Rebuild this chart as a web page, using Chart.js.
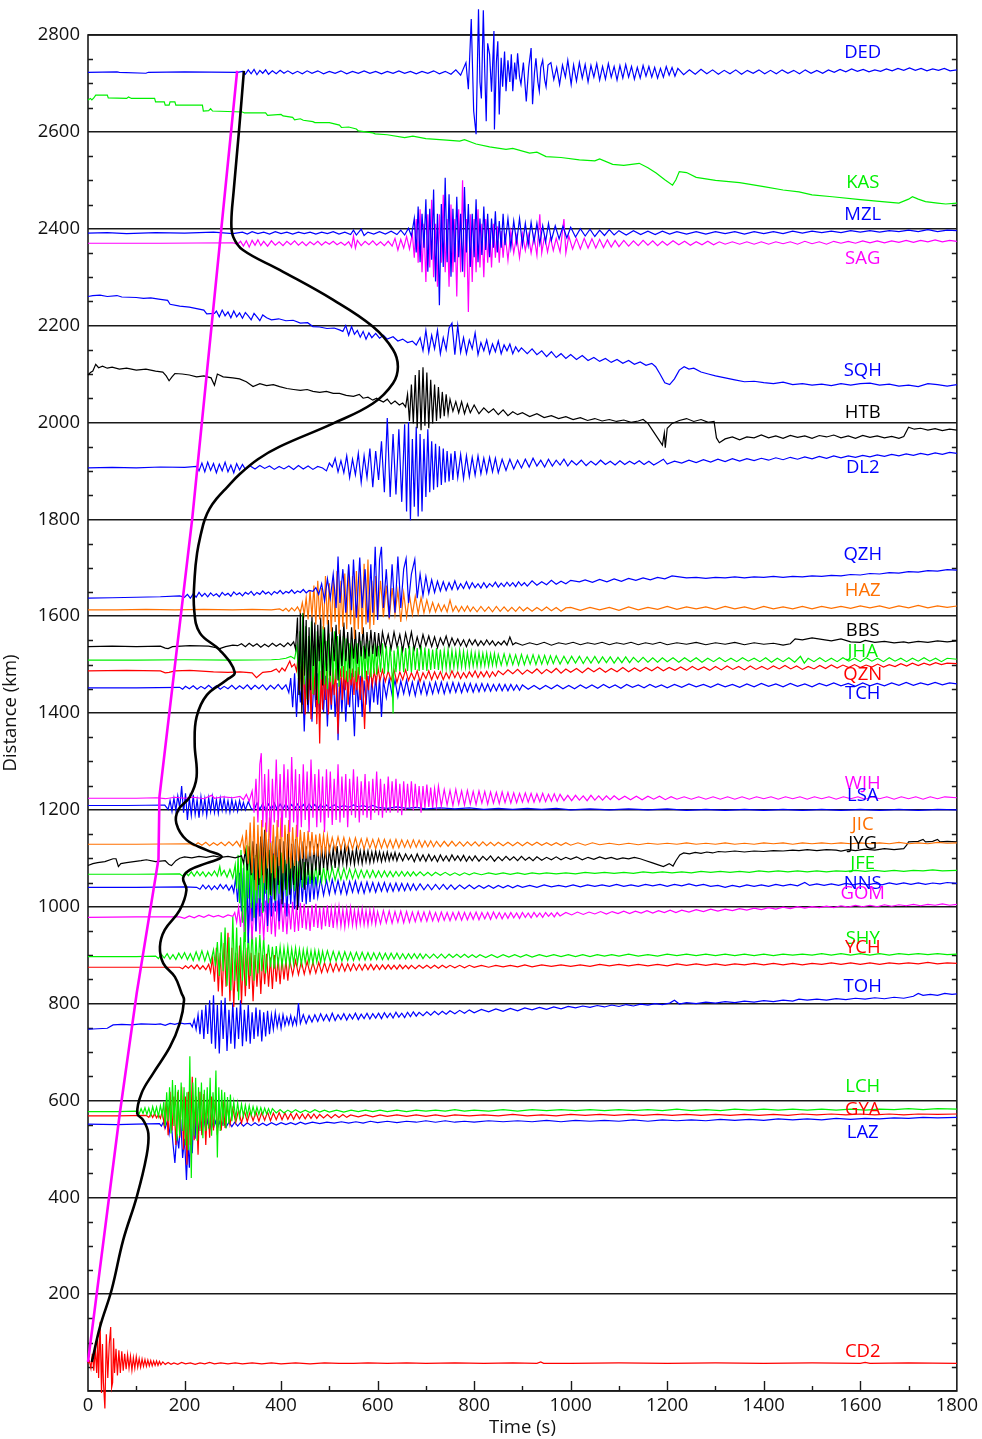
<!DOCTYPE html>
<html>
<head>
<meta charset="utf-8">
<title>Record section</title>
<script src="https://cdn.jsdelivr.net/npm/chart.js@4.4.1/dist/chart.umd.min.js"></script>
<style>
  html, body { margin: 0; padding: 0; background: #fff; }
  canvas { display: block; }
</style>
</head>
<body>
<canvas id="section" width="982" height="1439"></canvas>
<script>
// ============================================================
// DATA - traces as [time (s), deflection (km)]
// ============================================================

const NAMES = ['DED','KAS','MZL','SAG','SQH','HTB','DL2','QZH','HAZ','BBS','JHA','QZN','TCH','WJH','LSA','JIC','JYG','JFE','NNS','GOM','SHY','YCH','TOH','LCH','GYA','LAZ','CD2'];
const DIST = [2723,2666,2391,2370,2260,2098,1906,1637,1613,1537,1509,1487,1452,1224,1209,1129,1085,1067,1040,978,897,875,747,577,568,551,57];
const LABEL_D = [2763,2494,2428,2339,2106,2019,1906,1726,1652,1569,1526,1478,1439,1253,1229,1169,1130,1088,1047,1026,933,915,834,628,580,533,81];

const X_TICKS = [0,200,400,600,800,1000,1200,1400,1600,1800];
const Y_TICKS = [0,200,400,600,800,1000,1200,1400,1600,1800,2000,2200,2400,2600,2800];

// travel-time curves [time, distance]
const CURVE_BLACK = [[8,60],[25,133],[49,209],[73,312],[101,401],[121,484],[125,532],[114,560],[102,573],[111,615],[135,656],[170,711],[190,759],[199,807],[194,821],[180,855],[156,883],[149,917],[159,952],[190,993],[204,1035],[197,1059],[211,1076],[246,1090],[277,1103],[246,1117],[204,1138],[183,1172],[187,1200],[211,1227],[225,1268],[221,1337],[225,1392],[246,1437],[287,1468],[304,1484],[273,1530],[232,1565],[220,1613],[221,1681],[226,1730],[234,1770],[242,1800],[252,1822],[266,1842],[288,1866],[314,1893],[352,1924],[397,1950],[508,1998],[590,2039],[632,2081],[642,2115],[632,2150],[590,2198],[508,2253],[397,2315],[321,2356],[301,2383],[297,2414],[302,2480],[313,2604],[323,2726]];
const CURVE_MAGENTA = [[0,60],[66,574],[101,822],[146,1098],[148,1227],[216,1802],[309,2726]];

const DED = [[0,0],[60,1],[65,0],[120,-2],[125,0],[200,1],[310,0],[320,2],[326,-4],[332,5],[338,-3],[344,6],[350,-5],[356,4],[362,-2],[368,5],[374,-4],[382,3],[390,-3],[398,4],[406,-2],[414,3],[424,-3],[434,2],[444,-3],[454,3],[464,-2],[476,3],[488,-3],[500,2],[512,-2],[524,3],[536,-3],[548,2],[560,-2],[572,3],[584,-2],[596,2],[608,-3],[620,2],[632,-2],[644,3],[656,-2],[668,2],[680,-3],[692,2],[704,-2],[716,3],[728,-3],[740,2],[752,-4],[762,5],[772,-6],
  [783,20],[788,-35],[794,110],[799,-80],[804,-128],[809,130],[812,-20],[815,-54],[819,128],[822,0],[825,-101],[828,60],[832,37],[836,-40],[841,85],[842,-118],[846,20],[849,64],[852,-87],[856,30],[859,-30],[863,43],[866,-39],[870,25],[874,-20],[877,37],[880,-39],[884,20],[887,-15],[890,39],[894,-10],[897,-25],[902,20],[908,-60],[913,10],[918,50],[921,-66],[925,0],[928,29],[932,-20],[935,-39],[938,10],[942,25],[946,-15],[949,-30],[953,15],[959,20],[965,-15],[971,10],[977,-25],[983,15],[989,-10],[994,25],[1001,-25],
  [1006,15],[1012,-18],[1018,20],[1024,-12],[1030,16],[1036,-20],[1042,14],[1048,-10],[1054,18],[1060,-16],[1066,12],[1072,-14],[1078,18],[1084,-10],[1090,12],[1096,-16],[1102,14],[1108,-12],[1114,16],[1120,-10],[1126,12],[1132,-14],[1138,10],[1144,-12],[1150,14],[1156,-8],[1162,12],[1168,-10],[1174,10],[1180,-12],[1186,8],[1192,-10],[1198,12],[1204,-6],[1210,10],[1216,-8],[1222,8],
  [1234,-5],[1246,5],[1258,-4],[1270,6],[1282,-3],[1294,5],[1306,-4],[1318,4],[1330,-3],[1342,5],[1354,-4],[1366,4],[1378,-2],[1390,5],[1402,-3],[1414,4],[1426,-3],[1438,5],[1450,-2],[1462,4],[1474,-3],[1486,5],[1498,-2],[1510,4],[1522,-2],[1534,5],[1546,0],[1558,6],[1570,1],[1582,7],[1594,2],[1606,6],[1618,1],[1630,5],[1642,2],[1654,7],[1666,3],[1678,8],[1690,4],[1702,9],[1714,4],[1726,8],[1738,3],[1750,7],[1762,4],[1774,8],[1786,3],[1800,5]];

const KAS = [[0,0],[5,3],[8,0],[12,4],[16,10],[40,10],[42,4],[80,3],[84,6],[90,3],[138,3],[140,-4],[158,-4],[160,-11],[168,-11],[170,-4],[180,-4],[182,-11],[237,-11],[239,-23],[250,-22],[254,-18],[258,-23],[320,-25],[324,-27],[368,-27],[372,-32],[400,-30],[404,-33],[424,-36],[428,-41],[440,-39],[446,-42],[466,-45],[470,-47],[500,-47],[521,-52],[525,-57],[540,-56],[556,-60],[560,-64],[590,-68],[595,-70],[620,-72],[656,-78],[673,-75],[700,-80],[743,-83],[770,-85],[780,-82],[804,-91],[832,-97],[866,-102],[880,-100],[915,-110],[930,-108],[949,-117],[980,-119],[1018,-124],[1050,-126],[1060,-122],[1087,-133],[1110,-135],[1142,-131],[1160,-140],[1177,-151],[1195,-165],[1211,-176],[1218,-165],[1225,-148],[1240,-150],[1260,-160],[1300,-166],[1350,-171],[1400,-179],[1440,-186],[1473,-190],[1500,-196],[1542,-200],[1600,-206],[1645,-210],[1680,-213],[1700,-205],[1708,-200],[1720,-205],[1735,-210],[1760,-213],[1777,-215],[1800,-213]];

const MZL = [[0,0],[40,1],[80,-1],[140,1],[200,0],[260,2],[300,-1],[320,2],[330,-2],[340,3],[352,-1],[364,2],[376,-2],[388,3],[400,-1],[412,2],[424,-2],[436,2],[448,-1],[460,2],[472,-2],[484,2],[496,-1],[508,3],[520,-2],[532,2],[544,-3],[550,6],[556,-4],[566,8],[572,-5],[580,2],[592,-2],[604,3],[616,-2],[628,4],[640,-3],[648,6],[656,-4],[664,10],[670,-6],
  [676,30],[680,-40],[684,55],[688,-60],[692,40],[696,-30],[700,70],[704,-80],[708,50],[712,-55],[716,90],[720,-100],[724,40],[728,-149],[732,60],[736,-70],[740,114],[744,-60],[748,80],[752,-90],[756,50],[760,-60],[764,75],[768,-50],[772,40],[776,-80],[780,95],[784,-40],[788,60],[792,-70],[796,40],[800,-50],[804,70],[808,-60],[812,30],[816,-45],[820,55],[824,-35],[828,40],[832,-50],[836,30],[840,-30],[844,45],[848,-40],[852,25],[856,-30],[860,40],[864,-25],[870,30],[876,-30],[882,25],[888,-20],[894,30],[900,-25],[906,20],[912,-25],[918,22],[924,-18],[930,20],[936,-22],[942,15],[948,-18],[954,20],[960,-15],[968,15],[976,-12],[984,14],[992,-10],[1000,12],
  [1010,-8],[1020,9],[1030,-6],[1040,8],[1050,-7],[1060,6],[1070,-5],[1080,7],[1090,-4],[1100,5],[1115,-4],[1130,5],[1145,-3],[1160,4],[1175,-3],[1190,4],[1205,-2],[1220,3],[1240,-2],[1260,3],[1280,-2],[1300,3],[1320,-1],[1340,3],[1360,-2],[1380,3],[1400,-1],[1420,3],[1440,-1],[1460,4],[1480,0],[1500,4],[1520,1],[1540,4],[1560,1],[1580,5],[1600,2],[1620,5],[1640,2],[1660,5],[1680,3],[1700,6],[1720,3],[1740,7],[1760,3],[1780,6],[1800,5]];

const SAG = [[0,0],[150,0],[300,1],[310,-2],[316,4],[322,-6],[328,5],[334,-8],[340,6],[346,-4],[352,7],[358,-5],[364,4],[372,-6],[380,5],[388,-4],[396,3],[404,-5],[412,4],[420,-3],[428,5],[436,-4],[444,3],[452,-5],[460,3],[468,-3],[476,4],[484,-4],[492,3],[500,-2],[508,4],[516,-3],[524,2],[532,-4],[540,3],[546,-8],[550,15],[554,-10],[558,6],[566,-5],[574,4],[582,-3],[590,5],[598,-4],[606,3],[614,-5],[622,4],[630,-6],[636,10],[642,-14],[648,8],[654,-10],[660,14],[666,-12],
  [672,20],[676,-30],[680,50],[684,-40],[688,70],[692,-60],[696,40],[700,-80],[704,60],[708,-50],[712,90],[716,-70],[720,40],[724,-90],[728,60],[732,-40],[736,100],[740,-60],[744,50],[748,-90],[752,80],[756,-60],[760,50],[764,-110],[768,70],[772,-60],[776,130],[780,-70],[784,50],[788,-142],[792,60],[796,-80],[800,50],[804,-60],[808,70],[812,-50],[816,40],[820,-70],[824,50],[828,-40],[832,30],[836,-50],[840,40],[844,-30],[848,35],[852,-40],[856,25],[860,-30],[864,20],[870,-35],[876,25],[882,-20],[888,15],[894,-30],[900,20],[906,-15],[912,18],[918,-20],[924,15],[930,-25],[936,60],[940,-20],[946,15],[952,-18],[958,12],[964,-15],[970,10],[978,-18],[986,50],[990,-20],[996,15],[1004,-12],[1012,10],[1020,-12],[1028,10],[1036,-10],[1044,9],[1052,-10],[1060,8],[1068,-9],[1076,7],[1084,-8],[1092,6],[1100,-7],
  [1110,6],[1120,-6],[1130,5],[1140,-5],[1150,6],[1160,-4],[1170,5],[1180,-5],[1190,4],[1200,-4],[1212,5],[1224,-3],[1236,4],[1248,-4],[1260,3],[1272,-3],[1284,4],[1296,-3],[1308,3],[1320,-2],[1335,3],[1350,-2],[1365,3],[1380,-2],[1395,3],[1410,-2],[1425,3],[1440,-1],[1455,3],[1470,-2],[1485,4],[1500,-1],[1515,3],[1530,-2],[1545,4],[1560,0],[1575,4],[1590,0],[1605,5],[1620,1],[1635,5],[1650,1],[1665,5],[1680,2],[1695,6],[1710,2],[1725,6],[1740,3],[1755,7],[1770,3],[1785,6],[1800,4]];

const SQH = [[0,0],[10,2],[25,3],[40,0],[60,2],[70,-1],[100,-2],[115,-4],[130,-3],[150,-6],[165,-8],[170,-16],[190,-20],[210,-22],[240,-28],[246,-36],[262,-35],[266,-30],[272,-42],[278,-28],[284,-40],[290,-32],[296,-44],[302,-30],[308,-42],[314,-34],[320,-45],[326,-33],[332,-40],[338,-48],[344,-35],[350,-42],[356,-50],[362,-38],[370,-44],[380,-48],[395,-46],[410,-50],[425,-49],[440,-55],[455,-54],[466,-62],[480,-63],[495,-66],[510,-65],[521,-69],[528,-72],[534,-60],[540,-80],[546,-62],[552,-78],[558,-70],[564,-84],[570,-72],[576,-88],[582,-75],[588,-85],[596,-76],[604,-86],[612,-80],[620,-88],[632,-83],[642,-92],[652,-88],[662,-95],[672,-92],[680,-100],
  [688,-85],[694,-112],[700,-70],[706,-115],[712,-80],[718,-108],[724,-70],[730,-118],[736,-85],[742,-110],[748,-65],[754,-55],[760,-120],[766,-60],[772,-115],[778,-85],[784,-118],[790,-90],[796,-108],[802,-75],[808,-120],[814,-95],[820,-112],[826,-90],[832,-118],[838,-98],[844,-114],[850,-92],[856,-118],[862,-100],[868,-112],[874,-98],[880,-118],[886,-104],[892,-114],[898,-106],
  [910,-118],[920,-108],[930,-120],[940,-112],[950,-124],[960,-114],[970,-126],[980,-118],[990,-128],[1000,-120],[1012,-130],[1024,-122],[1036,-132],[1048,-126],[1060,-134],[1072,-128],[1084,-136],[1096,-130],[1108,-138],[1120,-132],[1132,-140],[1144,-135],[1156,-142],[1168,-138],[1176,-145],
  [1185,-160],[1195,-178],[1205,-182],[1215,-170],[1225,-152],[1235,-145],[1245,-150],[1255,-148],[1270,-156],[1285,-160],[1300,-164],[1320,-168],[1340,-172],[1360,-176],[1380,-175],[1400,-178],[1420,-180],[1440,-177],[1460,-182],[1480,-180],[1500,-183],[1520,-181],[1540,-184],[1560,-180],[1580,-183],[1600,-180],[1620,-179],[1640,-183],[1660,-181],[1680,-185],[1700,-183],[1720,-186],[1740,-180],[1760,-182],[1780,-185],[1800,-182]];

const HTB = [[0,0],[5,5],[10,8],[16,22],[22,15],[30,18],[40,14],[50,16],[65,12],[80,14],[100,10],[120,12],[140,8],[155,6],[162,-2],[168,-12],[174,-4],[180,3],[195,2],[210,0],[225,-4],[240,-2],[255,-6],[262,-21],[268,2],[280,-4],[300,-6],[314,-8],[328,-14],[342,-24],[356,-18],[370,-22],[384,-20],[397,-24],[412,-28],[426,-30],[440,-32],[454,-30],[466,-34],[480,-36],[494,-34],[508,-38],[521,-38],[535,-42],[550,-44],[562,-40],[570,-48],[580,-46],[590,-52],[598,-48],[604,-52],[612,-56],[620,-50],[628,-60],[636,-54],[645,-62],[652,-58],[658,-66],
  [662,-40],[666,-95],[670,-20],[674,-100],[678,0],[682,-110],[686,10],[690,-114],[694,16],[698,-105],[702,5],[706,-110],[710,-10],[714,-100],[718,-20],[722,-95],[726,-25],[730,-90],[734,-35],[738,-85],[742,-40],[746,-80],[750,-50],[756,-75],[762,-55],[768,-78],[774,-55],[780,-80],[786,-60],[792,-78],
  [800,-62],[810,-80],[820,-68],[830,-78],[840,-70],[850,-82],[860,-72],[870,-84],[880,-76],[890,-82],[900,-78],[915,-86],[930,-80],[945,-88],[960,-84],[975,-90],[990,-86],[1005,-92],[1020,-88],[1035,-94],[1050,-90],[1065,-95],[1080,-92],[1095,-96],[1110,-93],[1125,-98],[1140,-95],
  [1150,-92],[1160,-100],[1170,-115],[1180,-130],[1190,-145],[1194,-120],[1196,-150],[1200,-110],[1210,-100],[1225,-94],[1240,-90],[1255,-96],[1270,-92],[1285,-98],[1297,-96],[1302,-130],[1308,-140],[1320,-132],[1335,-128],[1350,-134],[1365,-128],[1380,-130],[1395,-124],[1410,-130],[1425,-126],[1440,-131],[1455,-125],[1470,-129],[1485,-126],[1500,-131],[1515,-125],[1530,-128],[1545,-124],[1560,-130],[1575,-126],[1590,-131],[1605,-125],[1620,-129],[1635,-126],[1650,-130],[1665,-127],[1680,-131],[1690,-127],[1700,-108],[1712,-112],[1725,-110],[1740,-114],[1755,-111],[1770,-115],[1785,-112],[1800,-114]];

const DL2 = [[0,0],[50,1],[100,0],[150,2],[200,1],[225,3],[230,-6],[236,10],[242,-8],[248,12],[254,-5],[260,9],[266,-10],[272,8],[278,-6],[284,12],[290,-8],[296,6],[302,-10],[308,9],[314,-4],[320,7],[326,-3],[336,4],[346,-2],[356,5],[366,-1],[376,4],[386,-3],[396,3],[406,-2],[416,4],[426,-3],[436,5],[446,-2],[456,4],[466,-3],[476,3],[486,0],[494,-6],[500,10],[506,2],[512,20],[518,-8],[524,15],[530,-10],[536,25],[542,-20],[548,18],[554,-14],[560,30],[566,-30],[572,25],[578,-20],[584,40],[590,-40],[596,35],[602,-25],[608,55],[614,-50],[620,103],[626,-60],[632,70],[638,-55],[644,80],[650,-70],[656,90],[660,-90],[664,95],[668,-108],[672,60],[676,-80],[680,85],[684,-100],[688,70],[692,-90],[696,60],[700,-60],[704,80],[708,-50],[712,55],[716,-45],[720,50],[724,-40],[728,45],[732,-35],[736,40],[740,-30],[744,35],[748,-28],[752,30],[756,-25],[760,35],[766,-20],[772,28],[778,-22],[784,25],[790,-18],[796,22],[802,-15],[808,25],[814,-12],[820,20],[826,-10],[832,22],[838,-8],[844,20],[850,-10],[858,18],[866,-5],[874,18],[882,-2],[890,16],[898,0],[906,18],[914,2],[922,20],[930,4],[938,16],[946,2],[954,18],[962,4],[970,16],[978,6],[986,18],[994,4],[1002,15],[1012,6],[1022,16],[1032,5],[1042,14],[1052,6],[1062,16],[1072,7],[1082,14],[1092,6],[1102,15],[1112,7],[1122,14],[1132,8],[1142,15],[1152,7],[1162,14],[1172,6],[1182,12],[1192,18],[1200,8],[1215,14],[1230,10],[1245,16],[1260,11],[1275,17],[1290,12],[1305,18],[1320,13],[1335,19],[1350,14],[1365,19],[1380,15],[1395,20],[1410,16],[1425,21],[1440,17],[1455,22],[1470,18],[1485,23],[1500,19],[1515,24],[1530,20],[1545,25],[1560,21],[1575,25],[1590,22],[1605,26],[1620,23],[1635,27],[1650,24],[1665,28],[1680,25],[1695,29],[1710,26],[1725,30],[1740,27],[1755,31],[1770,28],[1785,32],[1800,30]];

const QZH = [[0,0],[50,1],[100,2],[150,3],[190,5],[200,2],[206,8],[212,0],[218,9],[224,2],[230,12],[236,4],[242,10],[248,3],[254,11],[260,5],[266,9],[272,3],[278,12],[284,6],[290,10],[296,4],[302,13],[308,7],[314,11],[320,5],[326,12],[332,8],[338,14],[344,6],[350,12],[356,8],[362,15],[368,9],[374,13],[380,7],[386,14],[392,10],[398,16],[404,9],[410,14],[416,11],[422,17],[428,10],[434,15],[440,12],[446,18],[452,11],[458,16],[466,14],[472,22],[478,8],[484,30],[490,-5],[496,40],[502,0],[508,50],[514,-20],[518,86],[522,-10],[528,60],[534,-30],[540,70],[546,-25],[550,80],[556,-40],[563,84],[568,-20],[574,60],[580,-50],[586,70],[590,-30],[595,106],[600,-45],[604,80],[608,106],[612,-20],[618,60],[624,-40],[630,70],[636,-30],[642,86],[648,-20],[654,60],[659,82],[664,-10],[670,50],[677,80],[682,0],[688,50],[694,5],[700,45],[706,10],[712,38],[718,12],[724,35],[730,15],[736,34],[742,16],[748,32],[754,18],[760,36],[766,18],[772,30],[778,20],[784,34],[790,20],[796,32],[802,22],[808,30],[814,21],[820,32],[826,22],[832,30],[838,24],[844,33],[850,23],[856,31],[862,24],[868,33],[874,25],[880,32],[886,24],[892,34],[898,26],[904,32],[910,25],[920,36],[930,27],[940,34],[950,28],[960,37],[970,29],[980,35],[990,30],[1000,37],[1018,34],[1030,38],[1045,33],[1060,39],[1075,34],[1090,40],[1105,35],[1120,41],[1135,37],[1150,42],[1165,38],[1180,43],[1195,40],[1210,46],[1225,44],[1240,42],[1260,43],[1280,41],[1300,43],[1320,42],[1340,44],[1360,42],[1380,44],[1400,43],[1420,45],[1440,43],[1460,45],[1480,44],[1500,46],[1520,45],[1540,47],[1560,46],[1580,49],[1600,48],[1620,51],[1640,50],[1660,53],[1680,52],[1700,55],[1720,54],[1740,57],[1760,56],[1780,59],[1800,58]];

const HAZ = [[0,0],[60,0],[120,1],[180,0],[240,1],[300,0],[340,1],[380,0],[397,2],[404,-2],[410,3],[416,-3],[422,4],[428,-2],[434,6],[440,-5],[444,15],[448,-10],[452,25],[456,-20],[460,40],[464,-15],[468,50],[472,-30],[476,60],[480,-20],[484,45],[488,-40],[492,70],[496,-30],[500,55],[504,-45],[508,65],[512,-25],[516,80],[520,-50],[524,60],[528,-35],[532,75],[536,-40],[540,90],[544,-30],[548,70],[552,-60],[556,80],[560,-40],[564,85],[568,-50],[572,95],[576,-30],[580,104],[584,-40],[588,60],[592,-31],[596,70],[600,-20],[606,60],[612,-15],[618,50],[624,-20],[630,45],[636,-10],[642,40],[648,-25],[654,35],[660,-15],[666,30],[672,-10],[678,28],[684,-8],[690,25],[696,-6],[702,20],[708,-5],[714,15],[720,-4],[726,12],[732,-3],[738,10],[744,-4],[750,20],[756,-3],[762,8],[768,-4],[774,7],[780,-3],[786,8],[792,-3],[798,6],[806,-4],[814,7],[822,-3],[830,6],[838,-4],[846,7],[854,-3],[862,6],[870,-3],[878,5],[886,-3],[894,6],[902,-2],[910,5],[920,-3],[930,5],[940,-2],[950,6],[960,-2],[970,5],[980,-3],[990,4],[1000,5],[1020,-1],[1040,5],[1060,0],[1080,5],[1100,-1],[1120,6],[1140,0],[1160,5],[1180,1],[1200,7],[1220,1],[1240,6],[1260,2],[1280,6],[1300,1],[1320,7],[1340,2],[1360,6],[1380,1],[1400,7],[1420,2],[1440,6],[1460,2],[1480,7],[1500,2],[1520,7],[1540,3],[1560,7],[1580,3],[1600,8],[1620,4],[1640,8],[1660,3],[1680,8],[1700,4],[1720,9],[1740,4],[1760,8],[1780,5],[1800,8]];

const BBS = [[0,0],[50,1],[100,0],[150,1],[160,-3],[166,-4],[175,0],[211,2],[250,1],[265,-2],[273,-4],[285,0],[300,3],[310,2],[318,6],[326,0],[334,7],[342,1],[350,6],[358,-1],[366,5],[374,0],[382,7],[390,1],[398,6],[406,0],[414,8],[420,2],[426,10],[430,-5],
  [434,60],[437,-100],[440,76],[443,-137],[446,70],[449,-60],[452,55],[455,-120],[458,40],[461,-90],[464,65],[467,-40],[470,50],[473,-110],[476,45],[479,-30],[482,60],[486,-80],[490,40],[494,-50],[498,55],[502,-60],[506,40],[510,-30],[514,45],[518,-70],[522,35],[526,-40],[530,50],[534,-30],[538,30],[542,-45],[546,40],[550,-25],[554,35],[558,-35],[562,30],[566,-20],[570,40],[574,-25],[578,30],[582,-20],[586,35],[590,-15],[594,30],[598,-20],[602,28],[606,-10],[610,30],
  [616,0],[622,25],[628,-5],[634,30],[640,0],[646,25],[652,-8],[658,28],[664,0],[670,30],[676,-5],[682,20],[688,-3],[694,25],[700,2],[706,22],[712,0],[718,20],[724,-2],[730,18],[736,4],[742,22],[748,0],[754,18],[760,3],[766,16],[772,2],[778,14],[784,0],[790,15],[796,4],[802,14],[808,2],[814,12],[820,3],[826,14],[832,4],[838,12],[844,2],[850,10],[856,4],[862,12],[868,3],[874,20],[880,4],[886,8],
  [900,3],[915,8],[930,4],[945,9],[960,3],[975,8],[990,5],[1005,9],[1020,4],[1035,8],[1050,5],[1065,9],[1080,4],[1095,8],[1110,5],[1125,9],[1140,4],[1155,8],[1170,5],[1185,9],[1200,4],[1220,8],[1240,5],[1260,9],[1280,4],[1300,8],[1320,5],[1340,9],[1360,4],[1380,8],[1400,5],[1420,7],[1440,3],[1455,6],[1465,16],[1480,14],[1500,18],[1520,15],[1540,12],[1560,16],[1580,10],[1600,9],[1610,13],[1630,9],[1650,11],[1670,8],[1690,10],[1700,8],[1720,11],[1740,9],[1760,12],[1780,10],[1800,12]];

const JHA = [[0,0],[100,0],[200,1],[300,0],[380,1],[397,2],[410,4],[420,8],[428,3],
  [433,30],[436,-40],[439,60],[442,-60],[445,97],[448,-50],[451,70],[454,-80],[457,50],[460,-40],[463,80],[466,-70],[469,40],[472,-60],[475,60],[478,-90],[481,50],[484,-40],[487,70],[490,-50],[493,40],[496,-60],[499,55],[502,-45],[505,45],[508,-50],[511,60],[514,-40],[517,50],[520,-55],[523,40],[526,-35],[529,50],[532,-40],[535,45],[538,-45],[541,35],[544,-40],[547,45],[550,-35],[553,40],[556,-45],[559,35],[562,-30],[565,40],[568,-35],[571,30],[574,-40],[577,35],[580,-30],[583,40],[586,-35],[589,30],[592,-28],[595,35],[598,-30],[602,30],[606,-25],[610,35],[614,-28],[618,30],[622,-25],[626,28],[630,-30],[632,-110],[634,20],[638,-25],[642,30],[646,-22],[650,28],[654,-25],[658,25],[662,-22],[666,30],[670,-25],[674,28],[678,-20],[682,25],[686,-22],[690,30],[694,-20],[698,26],[702,-22],[706,24],[710,-20],[714,22],[718,-18],[722,25],[726,-20],[730,22],[734,-18],[738,20],[742,-16],[746,22],[750,-18],[754,20],[758,-15],[762,18],[766,-16],[770,20],[774,-14],[778,18],[782,-15],[786,16],[790,-14],[794,17],[798,-12],[802,15],[806,-13],[810,16],[814,-12],[818,14],[822,-11],[826,15],[830,-12],[834,13],[838,-10],[842,14],[846,-11],[850,12],[856,-10],[862,13],[868,-10],[874,12],[880,-9],[886,11],[892,-10],[898,12],[904,-9],[910,10],[916,-8],[922,11],[928,-9],[934,10],[940,-8],[946,10],[952,-8],[958,9],[964,-7],[970,9],[978,-8],[986,8],[994,-7],[1002,8],[1010,-6],[1018,8],[1026,-7],[1034,7],[1042,-6],[1050,8],[1058,-6],[1066,7],[1074,-5],[1082,7],[1090,-6],[1098,6],[1106,-5],[1114,7],[1122,-5],[1130,6],[1140,-4],[1150,6],[1160,-4],[1170,5],[1180,-4],[1190,5],[1200,-3],[1212,5],[1224,-4],[1236,5],[1248,-3],[1260,5],[1272,-4],[1284,4],[1296,-3],[1308,5],[1320,-3],[1332,4],[1344,-3],[1356,5],[1368,-2],[1380,4],[1392,-3],[1404,5],[1416,-4],[1428,4],[1440,-3],[1452,5],[1464,-4],[1476,8],[1484,-6],[1492,4],[1504,-3],[1516,5],[1528,-3],[1540,4],[1552,-3],[1564,5],[1576,-2],[1588,4],[1600,-3],[1612,5],[1624,-2],[1636,4],[1648,-3],[1660,5],[1672,-2],[1684,4],[1696,-3],[1708,4],[1720,-2],[1732,5],[1744,-2],[1756,4],[1768,-3],[1780,4],[1800,2]];

const QZN = [[0,0],[80,1],[150,0],[160,-4],[168,-3],[180,0],[211,1],[260,-2],[290,-3],[315,-2],[340,-4],[349,-14],[356,-8],[362,-3],[380,-1],[390,4],[396,-3],[402,6],[408,0],[414,12],[418,20],[422,8],[428,14],
  [432,0],[435,25],[438,-40],[441,10],[444,-70],[447,20],[450,-90],[453,0],[456,-60],[459,15],[462,-100],[465,5],[468,-50],[471,20],[474,-110],[477,-10],[480,-150],[483,0],[486,-80],[489,10],[492,-60],[495,15],[498,-90],[501,0],[504,-70],[507,10],[510,-50],[513,5],[516,-80],[518,-130],[521,-20],[524,5],[527,-60],[530,10],[533,-40],[536,0],[539,-70],[542,10],[545,-30],[548,5],[551,-50],[554,0],[557,-40],[560,8],[564,-60],[568,5],[573,-120],[577,0],[581,-40],[585,5],[589,-30],[593,0],[597,-25],[601,5],[605,-20],
  [610,2],[616,-22],[622,0],[628,-20],[634,2],[640,-24],[646,-2],[652,-18],[658,2],[664,-20],[670,-4],[676,-18],[682,0],[688,-22],[694,-4],[700,-16],[706,0],[712,-18],[718,-2],[724,-16],[730,-2],[736,-18],[742,-4],[748,-16],[754,0],[760,-14],[766,-2],[772,-16],[778,-4],[784,-14],[790,-2],[796,-12],[802,0],[808,-14],[814,-2],[820,-12],[826,-1],[832,-13],[838,-2],[844,-11],[850,0],
  [860,-8],[870,2],[880,-6],[890,3],[900,-7],[910,2],[920,-5],[930,4],[940,-6],[950,3],[960,-4],[970,5],[980,-5],[990,4],[1000,-3],[1012,5],[1024,-4],[1036,6],[1048,-2],[1060,6],[1072,-3],[1084,5],[1096,-2],[1108,7],[1120,-2],[1132,6],[1144,-1],[1156,7],[1168,0],[1180,8],[1192,0],[1204,7],[1216,1],[1228,8],[1240,1],[1252,9],[1264,2],[1276,8],[1288,1],[1300,9],[1312,2],[1324,10],[1336,3],[1348,9],[1360,2],[1372,10],[1384,3],[1396,9],[1408,3],[1420,10],[1432,4],[1444,11],[1456,4],[1468,10],[1480,3],[1492,9],[1504,4],[1516,11],[1528,5],[1540,12],[1552,6],[1564,12],[1576,7],[1588,13],[1600,7],[1612,12],[1624,8],[1636,14],[1648,8],[1660,13],[1672,9],[1684,15],[1696,10],[1708,16],[1720,11],[1732,16],[1744,12],[1756,17],[1768,13],[1780,16],[1800,15]];

const TCH = [[0,0],[100,0],[190,1],[196,-3],[202,3],[210,-2],[218,4],[226,-3],[234,3],[242,-2],[250,5],[258,-2],[266,4],[274,-3],[282,3],[290,-2],[298,5],[306,-3],[314,4],[322,-2],[330,6],[338,-3],[346,5],[354,-2],[362,6],[370,-4],[378,5],[386,-2],[394,7],[402,-3],[410,6],[416,-10],
  [420,20],[424,-40],[428,30],[432,-60],[436,20],[440,-30],[444,35],[448,-90],[452,25],[456,-50],[460,30],[464,-70],[468,20],[472,-40],[476,30],[480,-60],[484,15],[488,-50],[492,25],[496,-80],[500,20],[504,-45],[508,30],[512,-60],[516,10],[518,-108],[522,20],[526,-50],[530,25],[534,-70],[538,15],[542,-40],[546,30],[552,-100],[556,20],[560,-40],[564,25],[568,-60],[572,15],[576,-35],[580,25],[584,-50],[588,20],[592,-30],[596,25],[600,-35],[604,20],[608,-60],[612,15],
  [618,-20],[624,18],[630,-15],[636,16],[642,-18],[648,14],[654,-12],[660,16],[666,-14],[672,12],[678,-16],[684,14],[690,-12],[696,12],[702,-14],[708,10],[714,-12],[720,12],[726,-10],[732,12],[738,-12],[744,10],[750,-10],[756,11],[762,-9],[768,10],[774,-10],[780,9],[786,-8],[792,9],[798,-9],[804,8],[810,-8],[816,9],[822,-7],[828,8],[834,-7],[840,7],[846,-6],[852,8],[858,-6],[864,7],[870,-6],[876,7],[882,-5],[888,6],[894,-5],[900,6],
  [912,-3],[924,5],[936,-3],[948,5],[960,-2],[972,6],[984,-2],[996,5],[1008,-2],[1020,6],[1032,-1],[1044,6],[1056,-1],[1068,7],[1080,0],[1092,6],[1104,-1],[1116,7],[1128,1],[1140,6],[1152,0],[1164,7],[1176,1],[1188,6],[1200,0],[1215,7],[1230,1],[1245,8],[1260,2],[1275,7],[1290,1],[1305,8],[1320,2],[1335,7],[1350,1],[1365,8],[1380,2],[1395,9],[1410,3],[1425,8],[1440,2],[1455,9],[1470,3],[1485,8],[1500,2],[1515,9],[1530,4],[1545,10],[1560,4],[1575,9],[1590,3],[1605,10],[1620,4],[1635,9],[1650,4],[1665,10],[1680,5],[1695,11],[1710,5],[1725,10],[1740,6],[1755,11],[1770,6],[1785,10],[1800,8]];

const WJH = [[0,0],[100,0],[142,1],[160,-1],[180,2],[200,0],[220,2],[240,-1],[256,6],[262,0],[280,3],[300,1],[315,4],[322,-3],[328,8],[334,-6],[340,15],
  [344,-30],[348,40],[352,-50],[356,70],[359,93],[362,-60],[366,50],[370,-70],[374,60],[378,-92],[382,40],[386,-50],[390,80],[394,-60],[398,50],[402,-80],[406,70],[410,-40],[414,60],[418,-70],[422,85],[426,-50],[430,60],[434,-80],[438,50],[442,-60],[446,70],[450,-45],[454,55],[458,-70],[462,80],[466,-40],[470,50],[474,-60],[478,60],[482,-50],[486,45],[490,-70],[494,60],[498,-40],[502,55],[506,-55],[510,40],[514,-45],[518,70],[522,-50],[526,45],[530,-40],[534,50],[538,-60],[542,40],[546,-35],[550,60],[554,-40],[558,45],[562,-50],[566,35],[570,-35],[574,50],[578,-40],[582,35],[586,-45],[590,40],[594,-30],[598,55],[602,-35],[606,40],[610,-40],[614,30],[618,-30],[622,45],[626,-30],[630,35],[634,-25],[638,40],[642,-30],[646,30],[650,-35],[654,35],[658,-25],[662,30],[666,-20],[670,35],[674,-25],[678,30],[682,-20],[686,25],[690,-30],[694,25],[698,-20],[702,28],[706,-18],[710,22],[714,-20],[718,20],[722,-15],[726,25],
  [732,-16],[738,18],[744,-14],[750,16],[756,-15],[762,18],[768,-12],[774,15],[780,-14],[786,16],[792,-12],[798,14],[804,-13],[810,15],[816,-10],[822,14],[828,-12],[834,13],[840,-10],[846,12],[852,-11],[858,13],[864,-9],[870,12],[876,-10],[882,11],[888,-9],[894,10],[900,-8],[906,11],[912,-8],[918,10],[924,-8],[930,9],[936,-7],[942,10],[948,-7],[954,8],[960,-6],[966,9],[972,-6],[978,8],
  [986,-5],[994,6],[1002,-5],[1010,6],[1018,-4],[1026,5],[1034,-5],[1042,6],[1050,-4],[1058,5],[1066,-4],[1074,5],[1082,-3],[1090,5],[1100,-3],[1112,4],[1124,-3],[1136,4],[1148,-3],[1160,4],[1172,-2],[1184,4],[1196,-3],[1208,3],[1220,-2],[1235,3],[1250,-2],[1265,3],[1280,-2],[1295,3],[1310,-2],[1325,3],[1340,-2],[1355,3],[1370,-2],[1385,3],[1400,-1],[1415,3],[1430,-2],[1445,3],[1460,-1],[1475,3],[1490,-2],[1505,3],[1520,-1],[1535,3],[1550,-2],[1565,3],[1580,-1],[1595,3],[1610,-2],[1625,3],[1640,-1],[1655,3],[1670,-2],[1685,3],[1700,-1],[1715,3],[1730,-2],[1745,3],[1760,-1],[1775,3],[1800,1]];

const LSA = [[0,0],[80,0],[159,1],[166,-8],[170,10],[174,-12],[178,15],[182,-10],[186,20],[190,-5],[194,40],[198,-15],[202,25],[206,-30],[210,15],[214,-20],[218,22],[222,-18],[226,12],[230,-25],[234,18],[238,-15],[242,14],[246,-20],[250,16],[254,-12],[258,18],[262,-14],[266,12],[270,-16],[274,15],[278,-10],[282,14],[286,-12],[290,10],[294,-14],[298,12],[302,-10],[306,8],[310,-12],[314,10],[318,-8],[322,6],[326,-9],[332,8],[338,-6],[344,-10],[350,5],[356,-8],[362,4],[368,-10],[374,3],[380,-8],[386,5],[392,-9],[398,3],[404,-7],[410,4],[416,-8],[422,2],[428,-7],[434,3],[440,-6],[446,2],[452,-7],[458,3],[464,-5],[470,2],[476,-6],[482,2],[488,-5],[494,1],[500,-5],[510,1],[520,-4],[530,0],[540,-4],[550,1],[560,-3],[570,0],[580,-4],[590,0],[600,-4],[620,-6],[640,-3],[660,-6],[680,-4],[700,-7],[730,-5],[760,-7],[790,-5],[820,-8],[850,-6],[880,-8],[910,-6],[940,-8],[970,-6],[1000,-9],[1040,-7],[1080,-9],[1120,-7],[1160,-9],[1200,-7],[1240,-10],[1280,-8],[1320,-10],[1360,-8],[1400,-10],[1440,-8],[1480,-10],[1520,-8],[1560,-10],[1600,-8],[1640,-10],[1680,-8],[1720,-10],[1760,-8],[1800,-9]];

const JIC = [[0,0],[100,0],[211,1],[220,-3],[228,3],[236,-2],[244,4],[252,-3],[260,3],[268,-2],[276,4],[284,-3],[292,5],[300,-3],[308,6],[315,-5],
  [320,15],[324,-20],[328,30],[332,-40],[336,45],[340,-60],[344,57],[348,-95],[352,40],[356,-70],[360,50],[364,-80],[368,45],[372,-50],[376,55],[380,-60],[384,40],[388,-70],[392,50],[396,-45],[400,55],[404,-60],[408,40],[412,-40],[416,50],[420,-50],[424,35],[428,-45],[432,40],[436,-35],[440,30],[444,-30],[448,25],[452,-30],[456,28],[460,-25],[464,25],[468,-22],[472,20],[476,-25],[480,22],[484,-18],[488,20],[492,-20],[496,18],[500,-15],
  [506,14],[512,-12],[518,15],[524,-10],[530,14],[536,-12],[542,12],[548,-10],[554,13],[560,-9],[566,11],[572,-10],[578,12],[584,-8],[590,10],[596,-9],[602,11],[608,-8],[614,10],[620,-7],[626,9],[632,-8],[638,10],[644,-7],[650,9],[656,-6],[662,8],[668,-7],[674,9],[680,-6],[686,8],[692,-6],[698,7],[704,-5],[710,7],[716,-5],[722,6],[730,-5],[738,6],[746,-4],[754,6],[762,-4],[770,5],[778,-4],[786,5],[794,-3],[802,5],[810,-4],[818,5],[826,-3],[834,4],[842,-3],[850,4],[860,-3],[870,4],[880,-3],[890,4],[900,-3],[910,4],[920,-2],[930,4],[940,-2],[950,3],[960,-2],[970,3],[980,-2],[990,3],[1000,-2],[1015,3],[1030,-2],[1045,3],[1060,-1],
  [1080,2],[1100,-1],[1120,2],[1140,-1],[1160,2],[1180,0],[1200,2],[1220,0],[1240,3],[1260,0],[1280,2],[1300,0],[1320,3],[1340,0],[1360,2],[1380,0],[1400,3],[1420,1],[1440,3],[1460,0],[1480,3],[1500,1],[1520,3],[1540,1],[1560,3],[1580,1],[1600,3],[1620,1],[1640,3],[1660,1],[1680,4],[1700,1],[1720,3],[1740,1],[1760,4],[1780,2],[1800,3]];

const JYG = [[0,0],[10,4],[20,6],[35,8],[52,14],[58,14],[63,-2],[68,4],[80,6],[95,8],[110,10],[121,12],[140,8],[160,10],[168,2],[173,0],[182,10],[190,15],[200,18],[215,16],[230,19],[245,17],[260,20],[275,17],[290,19],[305,16],[318,20],
  [322,5],[326,30],[330,-10],[334,40],[338,-20],[342,50],[346,-30],[350,45],[354,-40],[358,60],[362,-20],[366,74],[370,-50],[374,55],[378,-60],[382,50],[386,-70],[390,60],[394,-40],[398,55],[402,-80],[406,50],[410,-50],[414,65],[418,-60],[422,45],[426,-40],[430,55],[434,-92],[438,40],[442,-30],[446,50],[449,-50],[452,40],[456,-20],[460,50],[464,-30],[468,40],[472,-10],[476,45],[480,-20],[484,40],[488,-5],[492,38],[496,-10],[500,35],[504,0],[508,35],[512,-5],[516,40],[520,0],[524,35],[528,5],[532,38],[536,0],[540,35],[544,5],[548,32],[552,2],[556,35],[560,6],[564,30],[568,4],[572,32],[576,8],[580,30],[584,6],[588,28],[592,8],[596,30],[600,10],[604,28],[608,8],[612,26],[616,10],[620,28],[624,10],[628,25],[632,12],[636,27],[640,10],[645,25],
  [652,10],[658,24],[664,12],[670,22],[676,8],[682,24],[688,10],[694,22],[700,9],[706,23],[712,10],[718,20],[724,8],[730,22],[736,10],[742,20],[748,9],[754,22],[760,11],[766,20],[772,10],[778,21],[784,9],[790,19],[796,10],[802,20],[810,9],[818,19],[826,11],[834,20],[842,9],[850,18],[858,10],[866,19],[874,11],[882,18],[890,10],[898,19],[906,11],[914,17],[922,10],[930,18],[940,11],[950,17],[960,12],[970,18],[980,12],[990,17],[1000,13],[1012,18],[1024,12],[1036,17],[1048,13],[1060,18],[1072,14],[1084,17],[1096,13],[1108,16],[1120,14],[1132,17],[1144,14],
  [1156,10],[1168,6],[1180,2],[1192,-2],[1204,4],[1212,-1],[1218,10],[1226,22],[1234,26],[1246,24],[1258,27],[1270,25],[1282,28],[1294,26],[1306,29],[1320,28],[1340,30],[1360,28],[1380,30],[1400,29],[1420,31],[1440,30],[1460,32],[1473,31],[1490,33],[1510,31],[1530,33],[1550,32],[1560,30],[1575,33],[1590,31],[1610,34],[1630,32],[1650,35],[1670,33],[1690,35],[1696,42],[1700,49],[1720,50],[1730,54],[1735,49],[1750,50],[1760,54],[1765,49],[1780,50],[1800,49]];

const JFE = [[0,0],[100,0],[190,1],[196,-4],[202,4],[208,-3],[214,5],[220,-4],[226,6],[232,-3],[238,5],[244,-5],[250,4],[256,-3],[262,7],[268,-4],[273,16],[276,-2],[282,8],[288,-6],[294,10],[300,-8],
  [305,20],[308,-30],[311,40],[314,-60],[317,50],[320,-100],[323,30],[326,-140],[329,60],[332,-50],[335,80],[338,-70],[341,50],[344,-90],[347,40],[350,-60],[353,70],[356,-50],[359,40],[362,-80],[365,55],[368,-40],[371,45],[374,-60],[377,50],[380,-45],[384,40],[388,-55],[392,35],[396,-40],[400,45],[404,-35],[408,30],[412,-45],[416,35],[420,-30],[424,30],[428,-35],[432,28],[436,-25],[440,30],[444,-28],[448,25],[452,-22],[456,25],[460,-20],[464,22],[468,-18],[472,20],[476,-16],[480,18],[484,-15],[488,16],[492,-14],[496,15],[500,-12],[506,14],[512,-12],[518,12],[524,-11],[530,12],[536,-10],[542,11],
  [548,-9],[554,10],[560,-8],[566,9],[572,-7],[578,8],[584,-7],[590,8],[596,-6],[602,7],[608,-6],[614,7],[620,-5],[626,6],[632,-5],[638,6],[644,-4],[650,6],[656,-4],[662,5],[668,-4],[674,5],[680,-3],[688,5],[696,-3],[704,4],[712,-3],[720,4],[730,-2],[740,4],[750,-2],[760,3],[770,-2],[780,3],[790,-1],[800,3],[815,-1],[830,3],[845,0],[860,3],[875,0],[890,3],[905,0],[920,3],[935,1],[950,3],[970,1],[990,3],[1010,1],[1030,4],[1050,2],[1070,4],[1090,2],[1110,4],[1130,2],[1150,5],[1170,3],[1190,5],[1210,3],[1230,5],[1250,3],[1270,6],[1290,4],[1310,6],[1330,4],[1350,6],[1370,4],[1390,7],[1410,5],[1430,7],[1450,5],[1470,7],[1490,5],[1510,7],[1530,5],[1550,7],[1570,6],[1590,8],[1610,6],[1630,8],[1650,6],[1670,8],[1690,6],[1710,8],[1730,7],[1750,9],[1770,7],[1800,8]];

const NNS = [[0,0],[100,0],[200,1],[225,0],[232,-4],[238,5],[244,-3],[250,4],[256,-5],[262,3],[268,-4],[274,6],[280,-3],[286,5],[292,-6],[298,4],
  [302,-10],[306,20],[310,-30],[314,30],[318,-50],[322,40],[326,-80],[329,50],[332,-115],[336,40],[340,-70],[344,60],[348,-90],[352,50],[356,-60],[360,92],[364,-50],[368,60],[372,-80],[376,40],[380,-60],[384,70],[388,-50],[392,40],[396,-70],[400,50],[404,-40],[408,45],[412,-60],[416,40],[420,-35],[424,50],[428,-45],[432,30],[436,-40],[440,35],[444,-30],[448,30],[452,-35],[456,25],[460,-30],[464,28],[468,-25],[472,22],[476,-20],
  [482,18],[488,-16],[494,15],[500,-14],[506,16],[512,-12],[518,14],[524,-13],[530,12],[536,-14],[542,12],[548,-10],[554,13],[560,-11],[566,10],[572,-12],[578,11],[584,-9],[590,10],[596,-10],[602,9],[608,-8],[614,10],[620,-9],[626,8],[632,-8],[638,9],[644,-7],[650,8],[656,-7],[662,8],[668,-6],[674,7],[680,-6],[688,7],[696,-5],[704,6],[712,-5],[720,6],[728,-4],[736,6],[744,-4],[752,5],[760,-4],[770,5],[780,-3],[790,5],[800,-3],[810,4],[820,-2],[830,4],[840,-2],[850,4],[860,-1],[870,4],[880,-1],[890,4],[900,0],
  [915,4],[930,0],[945,5],[960,1],[975,4],[990,1],[1005,5],[1020,1],[1035,5],[1050,2],[1065,5],[1080,2],[1095,6],[1110,2],[1125,5],[1140,2],[1155,6],[1170,3],[1185,6],[1200,2],[1215,6],[1230,3],[1245,7],[1260,3],[1275,6],[1290,2],[1305,4],[1320,0],[1335,4],[1350,1],[1365,5],[1380,2],[1395,5],[1410,2],[1425,6],[1440,3],[1455,6],[1470,3],[1485,10],[1495,4],[1510,7],[1525,4],[1540,7],[1555,4],[1570,8],[1585,5],[1600,8],[1615,5],[1630,8],[1645,5],[1660,9],[1675,6],[1690,9],[1705,6],[1720,9],[1735,6],[1750,9],[1765,7],[1780,10],[1800,8]];

const GOM = [[0,0],[100,1],[190,1],[200,-2],[210,3],[220,-1],[230,4],[240,0],[250,5],[260,1],[270,4],[280,0],[290,5],[300,2],
  [304,10],[308,-10],[312,20],[316,-20],[320,25],[324,-30],[328,35],[332,-40],[336,30],[340,-45],[344,35],[348,-30],[352,40],[356,-35],[360,30],[364,-47],[368,35],[372,-30],[376,40],[380,-35],[384,30],[388,-40],[392,35],[396,-25],[400,38],[404,-30],[408,30],[412,-35],[416,28],[420,-25],[424,32],[428,-30],[432,25],[436,-28],[440,30],[444,-22],[448,28],[452,-25],[456,22],[460,-28],[464,25],[468,-20],[472,28],[476,-22],[480,20],[484,-25],[488,22],[492,-18],[496,25],[500,-20],[504,18],[508,-22],[512,20],[516,-16],[520,22],[524,-18],[528,16],[532,-20],[536,18],[540,-15],[544,20],[548,-16],[552,15],[556,-18],[560,16],[564,-14],[568,18],[572,-15],[576,14],[580,-16],[584,15],[588,-12],[592,16],[596,-14],[600,12],[606,-13],[612,14],[618,-11],[624,13],[630,-12],[636,12],[642,-10],[648,13],[654,-11],[660,12],[666,-10],[672,11],[678,-9],[684,12],[690,-8],
  [696,11],[702,-8],[708,12],[714,-7],[720,10],[726,-8],[732,11],[738,-6],[744,10],[750,-7],[756,10],[762,-5],[768,11],[774,-6],[780,10],[786,-5],[792,10],[798,-4],[804,11],[810,-5],[816,10],[822,-3],[828,10],[834,-4],[840,11],[846,-2],[852,10],[858,-3],[864,9],[870,-2],[876,10],[882,-1],[888,9],[894,-2],[900,10],[906,0],[912,9],[918,-1],[924,10],[930,1],[936,9],[942,0],[948,10],[954,2],[960,9],[966,1],[972,10],[978,3],
  [990,10],[1002,5],[1014,11],[1026,6],[1038,11],[1050,7],[1062,12],[1074,7],[1086,12],[1098,8],[1110,13],[1122,8],[1134,13],[1146,9],[1158,14],[1170,9],[1182,14],[1194,10],[1206,15],[1218,10],[1230,15],[1245,11],[1260,16],[1275,12],[1290,17],[1305,13],[1320,17],[1335,14],[1350,18],[1365,15],[1380,19],[1395,16],[1410,20],[1425,17],[1440,21],[1455,18],[1470,22],[1485,19],[1500,22],[1515,20],[1530,23],[1545,20],[1560,24],[1575,21],[1590,25],[1605,22],[1620,25],[1635,22],[1650,26],[1665,23],[1680,26],[1695,24],[1710,27],[1725,24],[1740,27],[1755,25],[1770,28],[1785,25],[1800,27]];

const SHY = [[0,0],[100,0],[140,1],[146,-4],[152,5],[158,-3],[164,6],[170,-5],[176,4],[182,-6],[188,7],[194,-4],[200,8],[206,-6],[212,6],[218,-8],[224,10],[230,-7],[236,12],[242,-9],[248,10],[254,-12],[260,14],
  [264,-20],[268,30],[272,-40],[276,50],[280,-30],[284,60],[288,-60],[292,40],[296,-70],[300,83],[304,-50],[308,60],[312,-90],[316,40],[320,-50],[324,70],[328,-60],[332,50],[336,-40],[340,60],[344,-50],[348,40],[352,-35],[356,45],[360,-30],[364,40],[368,-35],
  [374,25],[378,-22],[382,20],[386,-25],[390,22],[394,-18],[398,20],[402,-20],[406,18],[410,-16],[414,20],[418,-18],[422,16],[426,-15],[430,18],[434,-14],[438,15],[442,-16],[446,14],[450,-12],[454,15],[458,-13],[462,12],[466,-14],[470,13],[474,-11],[478,12],[482,-12],[486,11],[490,-10],[496,12],[502,-10],[508,11],[514,-9],[520,10],[526,-9],[532,10],[538,-8],[544,9],[550,-8],[556,9],[562,-7],[568,9],[574,-7],[580,8],[586,-7],[592,8],[598,-6],[604,8],[610,-6],[616,7],[622,-6],[628,7],[634,-5],[640,7],[646,-5],[652,6],[658,-5],[664,6],[670,-4],[676,6],[682,-4],[688,6],[694,-4],[700,5],[708,-3],[716,5],[724,-3],[732,5],[740,-3],[748,5],[756,-2],[764,5],[772,-2],[780,5],[788,-2],[796,4],[804,-2],[812,4],
  [824,-2],[836,4],[848,-2],[860,4],[872,-1],[884,4],[896,-1],[908,4],[920,-1],[935,4],[950,0],[965,4],[980,0],[995,4],[1010,0],[1025,4],[1040,0],[1055,4],[1070,1],[1085,4],[1100,1],[1120,5],[1140,1],[1160,4],[1180,1],[1200,5],[1220,2],[1240,5],[1260,2],[1280,5],[1300,2],[1320,5],[1340,2],[1360,5],[1380,2],[1400,5],[1420,2],[1440,5],[1460,3],[1480,5],[1500,3],[1520,6],[1540,3],[1560,6],[1580,3],[1600,6],[1620,3],[1640,6],[1660,3],[1680,6],[1700,4],[1720,6],[1740,4],[1760,6],[1780,4],[1800,5]];

const YCH = [[0,0],[100,0],[190,0],[196,-3],[202,3],[208,-2],[214,4],[220,-3],[226,5],[232,-4],[238,3],[244,-5],[250,6],
  [254,-10],[258,20],[262,-30],[266,40],[270,-50],[274,30],[278,-60],[282,50],[286,-40],[290,71],[294,-70],[298,40],[302,-82],[306,30],[310,-50],[314,45],[318,-75],[322,35],[326,-60],[330,40],[334,-45],[338,30],[342,-70],[346,25],[350,-40],[354,30],[358,-55],[362,25],[366,-35],[370,28],[374,-40],[378,20],[382,-45],[386,25],[390,-30],[394,20],[398,-35],[402,18],[406,-25],[410,15],[414,-28],[418,15],
  [424,-16],[430,14],[436,-15],[442,12],[448,-14],[454,12],[460,-13],[466,10],[472,-12],[478,10],[484,-11],[490,9],[496,-10],[502,9],[508,-9],[514,8],[520,-8],[526,8],[532,-8],[538,7],[544,-7],[550,7],[556,-6],[562,6],[568,-6],[574,6],[580,-5],[586,6],[592,-5],[598,5],[604,-5],[610,5],[616,-4],[622,5],[628,-4],[634,4],[640,-4],[646,5],[652,-3],[658,4],[664,-3],[670,4],[678,-3],[686,4],[694,-2],[702,4],[710,-2],[718,4],[726,-2],[734,4],[742,-1],[750,4],[760,-1],[770,4],[780,-1],[790,4],[800,0],[815,4],[830,0],[845,4],[860,1],[875,4],[890,1],[905,5],[920,1],[940,5],[960,2],[980,5],[1000,2],[1020,5],[1040,2],[1060,6],[1080,3],[1100,6],[1120,3],[1140,6],[1160,3],[1180,6],[1200,3],[1220,7],[1240,4],[1260,7],[1280,4],[1300,7],[1320,4],[1340,7],[1360,5],[1380,8],[1400,5],[1420,8],[1440,5],[1460,8],[1480,5],[1500,8],[1520,6],[1540,9],[1560,6],[1580,9],[1600,6],[1620,9],[1640,6],[1660,9],[1680,7],[1700,9],[1720,7],[1740,10],[1760,7],[1780,9],[1800,8]];

const TOH = [[0,0],[20,1],[40,2],[52,9],[70,10],[90,9],[110,11],[140,10],[150,11],[160,8],[170,12],[180,10],[190,13],[200,11],[212,12],
  [216,5],[220,20],[224,0],[228,30],[232,-10],[236,40],[240,-20],[244,50],[248,-10],[252,60],[256,-30],[260,70],[264,-40],[268,50],[272,-50],[276,60],[280,-20],[284,65],[288,-45],[292,40],[296,-30],[300,55],[304,-40],[308,45],[312,-20],[316,60],[320,-35],[324,40],[328,-25],[332,50],[336,-30],[340,35],[344,-20],[348,45],[352,-15],[356,40],[360,-25],[364,35],[368,-15],[372,38],[376,-10],[380,30],[384,0],[388,35],[392,5],[396,28],[400,2],[404,30],[408,8],[412,25],[416,10],[420,28],[424,8],[428,24],[432,10],[436,54],[440,12],[446,30],[452,12],[458,28],
  [464,15],[470,30],[476,16],[482,32],[488,18],[494,30],[500,17],[506,33],[512,18],[518,30],[524,20],[530,32],[536,19],[542,31],[548,21],[554,33],[560,20],[566,31],[572,22],[578,33],[584,21],[590,32],[596,23],[602,33],[608,22],[614,34],[620,24],[626,33],[632,23],[638,35],[644,25],[650,33],[656,24],[662,35],[668,26],[674,36],[680,27],[686,35],[694,28],[702,36],[710,29],[718,37],[726,30],[734,37],[742,31],[750,38],[760,32],[770,39],[780,33],[790,40],[800,34],[815,41],[830,36],[845,42],[860,37],[875,43],[890,38],[905,44],[920,40],[935,45],[950,41],[965,46],[980,42],[995,47],[1010,44],[1025,48],[1040,45],[1055,49],[1070,46],[1085,50],[1100,47],[1115,51],[1130,48],[1145,52],[1160,50],[1175,53],[1190,51],[1205,54],[1215,60],[1225,52],[1240,55],[1260,53],[1280,56],[1300,54],[1320,57],[1340,55],[1360,58],[1380,56],[1400,59],[1420,57],[1440,60],[1460,58],[1473,62],[1490,60],[1510,62],[1530,60],[1550,63],[1570,61],[1590,64],[1610,62],[1630,65],[1650,63],[1670,66],[1690,64],[1710,68],[1720,74],[1730,70],[1745,72],[1760,70],[1775,74],[1790,72],[1800,73]];

const LCH = [[0,0],[60,0],[101,1],[106,-5],[110,6],[114,-4],[118,8],[122,-6],[126,7],[130,-8],[134,10],[138,-6],[142,9],[146,-10],[150,12],[154,-8],
  [157,20],[160,-30],[163,40],[166,-20],[169,50],[172,-45],[175,65],[178,-30],[181,55],[184,-60],[187,45],[190,-50],[193,60],[196,-40],[199,50],[202,-70],[205,40],[208,-80],[211,114],[214,-137],[217,60],[220,-50],[223,70],[226,-60],[229,50],[232,-40],[235,60],[238,-55],[241,45],[244,-40],[247,50],[250,-35],[253,70],[256,-50],[259,40],[262,-30],[265,85],[268,-95],[271,50],[274,-40],[277,45],[280,-30],[283,40],[286,-35],[289,30],[292,-25],[295,35],[298,-20],
  [302,20],[306,-15],[310,18],[314,-12],[318,15],[322,-10],[326,13],[330,-9],[334,12],[338,-8],[342,10],[346,-7],[350,9],[354,-6],[358,8],[362,-6],[366,7],[370,-5],[374,6],[378,-5],[382,6],
  [390,-3],[398,4],[406,-3],[414,3],[422,-2],[430,4],[440,-2],[450,3],[460,-2],[470,4],[480,-1],[490,3],[500,-1],[515,3],[530,-1],[545,3],[560,0],[575,3],[590,0],[605,3],[620,0],[640,3],[660,0],[680,3],[700,1],[720,3],[740,1],[760,4],[780,1],[800,3],[830,1],[860,4],[890,1],[920,4],[950,2],[980,4],[1010,2],[1040,4],[1070,2],[1100,4],[1130,2],[1160,4],[1190,2],[1220,5],[1250,2],[1280,4],[1310,2],[1340,5],[1370,3],[1400,5],[1430,3],[1460,5],[1490,3],[1520,5],[1550,3],[1580,5],[1610,3],[1640,5],[1670,4],[1700,6],[1730,4],[1760,6],[1800,5]];

const GYA = [[0,0],[60,0],[121,1],[126,-3],[130,4],[134,-3],[138,5],[142,-4],[146,3],[150,-5],
  [154,10],[158,-20],[162,30],[166,-40],[170,50],[174,-30],[178,40],[182,-60],[186,50],[190,-45],[194,60],[198,-70],[202,40],[205,-101],[208,50],[212,-60],[216,81],[220,-50],[224,40],[228,-80],[232,50],[236,-40],[240,45],[244,-60],[248,35],[252,-45],[256,40],[260,-30],[264,35],[268,-40],[272,25],[276,-30],[280,30],[284,-25],[288,20],
  [294,-18],[300,15],[306,-14],[312,12],[318,-15],[324,10],[330,-12],[336,9],[342,-10],[348,8],[354,-11],[360,7],[366,-9],[372,8],[378,-10],[384,6],[390,-8],[396,7],[402,-8],[408,6],[414,-7],[420,5],[426,-7],[432,5],[438,-6],[444,4],[450,-6],[456,4],[462,-5],[468,4],[474,-5],[480,3],[488,-4],[496,3],[504,-4],[512,3],[520,-3],[528,3],[536,-3],[544,2],
  [560,-2],[575,2],[590,-2],[605,2],[620,-1],[640,2],[660,-1],[680,2],[700,-1],[720,2],[740,-1],[760,2],[790,0],[820,2],[850,0],[880,3],[910,0],[940,2],[970,0],[1000,3],[1030,1],[1060,3],[1090,1],[1120,3],[1150,1],[1180,3],[1210,1],[1240,3],[1270,1],[1300,3],[1330,1],[1360,3],[1390,1],[1420,3],[1450,1],[1480,4],[1510,2],[1540,4],[1570,2],[1600,4],[1630,2],[1660,4],[1690,2],[1720,4],[1760,3],[1800,4]];

const LAZ = [[0,0],[60,-1],[100,0],[148,1],[152,-4],[156,4],[160,-8],[164,5],[168,-20],[172,10],[176,-40],[180,-80],[184,-20],[188,-50],[192,10],[196,-70],[200,-30],[204,-115],[207,-40],[210,-90],[213,-10],[216,-60],[219,20],[222,-30],[225,44],[228,-20],[232,10],[236,-15],[240,12],[244,-10],[248,8],[252,-12],[256,8],[260,-8],[264,6],[268,-9],[272,5],[276,-6],[280,5],[286,-6],[292,4],[298,-5],[304,4],[310,-4],[316,3],[322,-4],[330,3],[338,-3],[346,3],[354,-3],[362,2],[370,-3],[380,3],[390,-2],[400,3],[410,-1],[420,3],[430,-1],[440,4],[450,0],[465,4],[480,1],[495,4],[510,2],[525,5],[540,2],[555,5],[570,2],[585,6],[600,3],[620,6],[640,3],[660,6],[680,4],[700,7],[720,4],[740,7],[760,4],[780,6],[800,4],[830,7],[860,5],[890,7],[920,5],[950,8],[980,5],[1010,8],[1040,6],[1070,8],[1100,6],[1130,9],[1160,6],[1190,9],[1220,7],[1250,9],[1280,7],[1310,10],[1340,8],[1370,10],[1400,8],[1430,11],[1460,9],[1490,11],[1520,9],[1550,12],[1580,10],[1610,12],[1640,11],[1670,13],[1700,12],[1730,14],[1760,13],[1800,14]];

const CD2 = [[0,0],[3,5],[6,-10],[9,20],[12,-15],[15,30],[18,-20],[20,50],[22,-30],[25,86],[28,-61],[30,40],[32,-40],[35,-93],[38,60],[41,-30],[44,40],[47,75],[49,-50],[51,-40],[53,52],[55,-20],[58,30],[61,-25],[64,27],[67,-20],[70,25],[73,-15],[76,20],[79,-12],[82,18],[85,-10],[88,15],[91,-14],[94,12],[97,-10],[100,14],[103,-8],[106,10],[109,-8],[112,9],[115,-6],[118,8],[121,-6],[124,7],[127,-5],[130,6],[133,-5],[136,5],[139,-4],[142,5],[145,-4],[148,4],[151,-3],[155,3],[160,-2],[166,2],[172,-2],[178,1],[186,-2],[194,2],[202,-1],[212,1],[222,-2],[232,1],[242,-1],[252,2],[262,-1],[275,1],[290,-1],[305,1],[320,-1],[340,1],[360,-1],[380,1],[400,-1],[430,1],[460,-1],[490,1],[520,0],[550,0],[580,1],[620,0],[660,1],[700,0],[760,1],[820,0],[880,1],[930,0],[938,3],[944,0],[1000,0],[1100,1],[1200,0],[1300,1],[1400,0],[1500,1],[1600,0],[1610,2],[1620,0],[1700,1],[1800,0]];

const TRACES = [DED,KAS,MZL,SAG,SQH,HTB,DL2,QZH,HAZ,BBS,JHA,QZN,TCH,WJH,LSA,JIC,JYG,JFE,NNS,GOM,SHY,YCH,TOH,LCH,GYA,LAZ,CD2];

// ============================================================
// STYLE
// ============================================================

const COL = {
  blue: '#0000ff',
  green: '#00f000',
  magenta: '#ff00ff',
  red: '#ff0000',
  orange: '#ff7000',
  black: '#000000',
  frame: '#1a1a1a'
};
const TRACE_COLORS = [COL.blue, COL.green, COL.blue, COL.magenta, COL.blue, COL.black, COL.blue, COL.blue, COL.orange, COL.black,
  COL.green, COL.red, COL.blue, COL.magenta, COL.blue, COL.orange, COL.black, COL.green, COL.blue, COL.magenta,
  COL.green, COL.red, COL.blue, COL.green, COL.red, COL.blue, COL.red];
const LABEL_T = 1605;
const FONT = '"Open Sans", "Noto Sans", sans-serif';

// ============================================================
// CHART
// ============================================================

const datasets = [
  {
    label: 'curve',
    data: CURVE_BLACK.map(([t, d]) => ({ x: t, y: d })),
    borderColor: COL.black, borderWidth: 2.6, tension: 0.4, pointRadius: 0, clip: false
  },
  {
    label: 'line',
    data: CURVE_MAGENTA.map(([t, d]) => ({ x: t, y: d })),
    borderColor: COL.magenta, borderWidth: 2.6, tension: 0, pointRadius: 0, clip: false
  }
];
TRACES.forEach((tr, i) => {
  datasets.push({
    label: NAMES[i],
    data: tr.map(([t, a]) => ({ x: t, y: DIST[i] + a })),
    borderColor: TRACE_COLORS[i],
    borderWidth: 1.2,
    tension: 0,
    pointRadius: 0,
    clip: false
  });
});

// Inward minor ticks, frame and station names
const decorPlugin = {
  id: 'decor',
  beforeDatasetsDraw(chart) {
    const { ctx, chartArea: a, scales: { x, y } } = chart;
    ctx.save();
    ctx.strokeStyle = COL.frame;
    ctx.lineWidth = 1.6;
    ctx.strokeRect(a.left, a.top, a.right - a.left, a.bottom - a.top);
    ctx.lineWidth = 1.4;
    ctx.beginPath();
    for (let v = 50; v < 2800; v += 50) {
      if (v % 200 === 0) continue;
      const py = Math.round(y.getPixelForValue(v)) + 0.5;
      ctx.moveTo(a.left, py); ctx.lineTo(a.left + 5, py);
      ctx.moveTo(a.right, py); ctx.lineTo(a.right - 5, py);
    }
    for (let v = 100; v < 1800; v += 100) {
      const px = Math.round(x.getPixelForValue(v)) + 0.5;
      const len = v % 200 === 0 ? 10 : 5;
      ctx.moveTo(px, a.bottom); ctx.lineTo(px, a.bottom - len);
    }
    ctx.stroke();
    ctx.restore();
  },
  afterDatasetsDraw(chart) {
    const { ctx, scales: { x, y } } = chart;
    ctx.save();
    ctx.font = '18.5px ' + FONT;
    ctx.textAlign = 'center';
    ctx.textBaseline = 'middle';
    NAMES.forEach((n, i) => {
      ctx.fillStyle = TRACE_COLORS[i];
      ctx.fillText(n, x.getPixelForValue(LABEL_T), y.getPixelForValue(LABEL_D[i]));
    });
    ctx.restore();
  }
};

new Chart(document.getElementById('section'), {
  type: 'line',
  data: { datasets },
  plugins: [decorPlugin],
  options: {
    responsive: false,
    maintainAspectRatio: false,
    animation: false,
    parsing: false,
    layout: { padding: { top: 35, right: 24, left: 0, bottom: 0 } },
    plugins: { legend: { display: false }, tooltip: { enabled: false } },
    scales: {
      x: {
        type: 'linear',
        min: 0, max: 1800,
        afterBuildTicks: s => { s.ticks = X_TICKS.map(v => ({ value: v })); },
        afterFit: s => { s.height = 48; },
        grid: { display: false, drawTicks: false },
        border: { display: false },
        ticks: { color: '#111', font: { family: FONT, size: 18.5 }, padding: 4, maxRotation: 0, autoSkip: false, callback: v => String(v) },
        title: { display: true, text: 'Time (s)', color: '#111', font: { family: FONT, size: 18.5 }, padding: { top: 0, bottom: 0 } }
      },
      y: {
        type: 'linear',
        min: 0, max: 2800,
        afterBuildTicks: s => { s.ticks = Y_TICKS.map(v => ({ value: v })); },
        afterFit: s => { s.width = 88; },
        grid: { display: true, drawTicks: false, color: COL.frame, lineWidth: 1.4 },
        border: { display: false },
        ticks: { color: '#111', font: { family: FONT, size: 18.5 }, padding: 8, autoSkip: false, callback: v => (v === 0 ? '' : String(v)) },
        title: { display: true, text: 'Distance (km)', color: '#111', font: { family: FONT, size: 18.5 }, padding: { top: 0, bottom: 0 } }
      }
    }
  }
});
</script>
</body>
</html>
